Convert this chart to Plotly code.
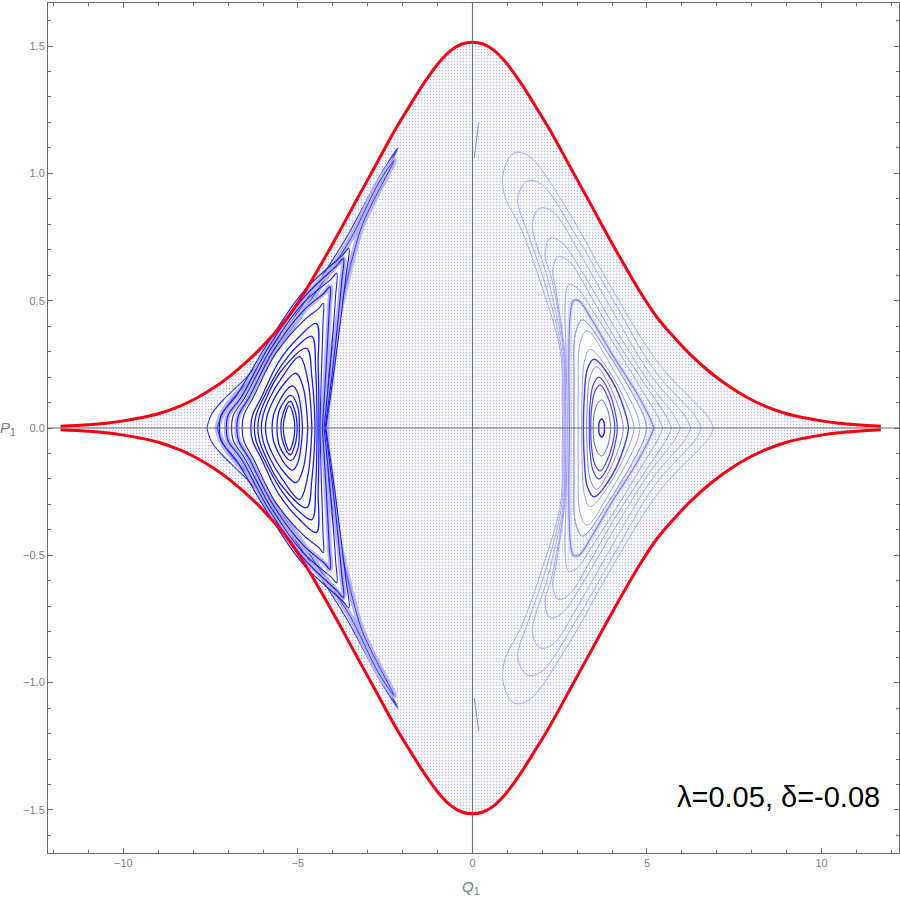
import plotly.graph_objects as go

# Outer energy boundary, upper branch (the lower branch is its mirror in P1)
boundary_q = [-11.8, -11.0, -10.5, -10.0, -9.5, -9.0, -8.38, -7.9, -7.38, -6.95, -6.23, -5.75, -5.28, -4.8, -4.32, -3.85, -3.37, -2.8, -2.22, -1.8, -1.36, -0.93, -0.6, -0.3,
              0.0, 0.3, 0.6, 0.93, 1.36, 1.8, 2.22, 2.8, 3.37, 3.85, 4.32, 4.8, 5.28, 5.75, 6.23, 6.8, 7.38, 7.9, 8.38, 9.0, 9.5, 10.0, 10.5, 11.0, 11.7]
boundary_p = [0.007, 0.013, 0.019, 0.028, 0.04, 0.056, 0.086, 0.118, 0.161, 0.204, 0.29, 0.36, 0.436, 0.535, 0.647, 0.762, 0.883, 1.025, 1.17, 1.265, 1.36, 1.44, 1.485, 1.508,
              1.515, 1.508, 1.485, 1.44, 1.36, 1.265, 1.17, 1.025, 0.883, 0.762, 0.647, 0.535, 0.436, 0.36, 0.29, 0.22, 0.161, 0.118, 0.086, 0.056, 0.04, 0.028, 0.019, 0.013, 0.007]

# Left island curves, upper half
left_q = [
    [-5.42, -5.37, -5.25, -5.13, -5.09],
    [-5.49, -5.42, -5.22, -5.07, -5.02],
    [-5.60, -5.50, -5.20, -5.00, -4.96],
    [-5.74, -5.70, -5.55, -5.32, -5.15, -5.00, -4.90, -4.87],
    [-5.93, -5.88, -5.70, -5.42, -5.05, -4.85, -4.75, -4.72],
    [-6.05, -6.00, -5.80, -5.45, -4.95, -4.72, -4.63, -4.60],
    [-6.15, -6.10, -5.90, -5.50, -4.75, -4.60, -4.53, -4.51],
    [-6.25, -6.20, -5.98, -5.50, -4.95, -4.60, -4.49, -4.46, -4.45],
    [-6.35, -6.30, -6.05, -5.55, -4.95, -4.47, -4.42, -4.40, -4.40],
    [-6.60, -6.55, -6.28, -5.65, -4.85, -4.40, -4.27, -4.28, -4.33, -4.37],
    [-6.75, -6.70, -6.40, -5.72, -4.85, -4.25, -4.08, -4.10, -4.20, -4.30],
    [-6.90, -6.85, -6.52, -5.78, -4.85, -4.05, -3.89, -3.92, -4.08, -4.25],
    [-7.05, -7.00, -6.63, -5.83, -4.85, -3.88, -3.70, -3.75, -3.98, -4.22],
    [-7.25, -7.20, -6.75, -5.88, -4.85, -3.72, -3.54, -3.62, -3.92, -4.20],
]
left_p = [
    [0, 0.05, 0.088, 0.05, 0],
    [0, 0.06, 0.105, 0.06, 0],
    [0, 0.08, 0.128, 0.08, 0],
    [0, 0.05, 0.10, 0.15, 0.165, 0.135, 0.06, 0],
    [0, 0.05, 0.11, 0.17, 0.215, 0.16, 0.07, 0],
    [0, 0.05, 0.12, 0.20, 0.28, 0.19, 0.08, 0],
    [0, 0.05, 0.12, 0.22, 0.313, 0.20, 0.08, 0],
    [0, 0.05, 0.12, 0.24, 0.33, 0.36, 0.22, 0.09, 0],
    [0, 0.05, 0.12, 0.26, 0.36, 0.41, 0.25, 0.09, 0],
    [0, 0.05, 0.12, 0.29, 0.42, 0.47, 0.49, 0.42, 0.20, 0],
    [0, 0.05, 0.12, 0.30, 0.46, 0.53, 0.555, 0.47, 0.22, 0],
    [0, 0.05, 0.12, 0.31, 0.49, 0.585, 0.608, 0.52, 0.24, 0],
    [0, 0.05, 0.12, 0.32, 0.51, 0.64, 0.666, 0.57, 0.26, 0],
    [0, 0.05, 0.13, 0.33, 0.535, 0.68, 0.706, 0.60, 0.27, 0],
]
# Outer chain of the left island
chain_q = [-7.60, -7.57, -7.45, -7.14, -6.47, -5.52, -4.57, -3.60, -2.65, -2.13, -3.13, -3.60, -3.89, -4.08, -4.13]
chain_p = [0, 0.02, 0.06, 0.11, 0.20, 0.357, 0.542, 0.75, 0.99, 1.10, 0.83, 0.58, 0.385, 0.177, 0]
chain2_q = [-7.30, -7.27, -7.15, -6.90, -6.30, -5.40, -4.50, -3.50, -2.70, -2.25, -3.15, -3.65, -3.95, -4.15, -4.18]
chain2_p = [0, 0.02, 0.06, 0.11, 0.20, 0.35, 0.53, 0.74, 0.96, 1.05, 0.80, 0.55, 0.36, 0.17, 0]

# Right island curves, upper half
right_q = [
    [3.62, 3.63, 3.70, 3.77, 3.78],
    [3.46, 3.48, 3.58, 3.70, 3.85, 3.94, 3.96],
    [3.39, 3.41, 3.50, 3.66, 3.88, 4.05, 4.08],
    [3.35, 3.36, 3.45, 3.62, 3.92, 4.12, 4.15],
    [3.27, 3.29, 3.37, 3.55, 3.95, 4.28, 4.32],
    [3.18, 3.20, 3.29, 3.48, 3.98, 4.42, 4.47],
    [3.13, 3.14, 3.22, 3.37, 3.98, 4.57, 4.63],
    [3.03, 3.03, 3.08, 3.28, 3.95, 4.72, 4.80],
    [2.91, 2.91, 2.95, 3.15, 3.90, 4.90, 4.99],
    [2.78, 2.77, 2.76, 2.80, 2.89, 3.05, 3.40, 4.00, 4.65, 5.08, 5.20],
    [2.72, 2.71, 2.68, 2.66, 2.75, 3.00, 3.40, 4.10, 4.85, 5.33, 5.45],
    [2.68, 2.67, 2.64, 2.38, 2.30, 2.46, 2.80, 3.30, 4.05, 4.95, 5.58, 5.70],
    [2.65, 2.64, 2.62, 2.28, 2.08, 2.22, 2.55, 3.20, 4.05, 5.05, 5.82, 5.95],
    [2.63, 2.62, 2.60, 2.17, 1.72, 1.93, 2.30, 3.10, 4.05, 5.15, 6.12, 6.25],
    [2.60, 2.59, 2.56, 2.05, 1.60, 1.30, 1.55, 1.95, 2.95, 4.00, 5.25, 6.42, 6.55],
    [2.58, 2.57, 2.52, 1.93, 1.40, 0.93, 0.88, 1.17, 1.60, 2.75, 3.90, 5.35, 6.77, 6.90],
]
right_p = [
    [0, 0.022, 0.0355, 0.022, 0],
    [0, 0.05, 0.095, 0.11, 0.08, 0.03, 0],
    [0, 0.07, 0.14, 0.169, 0.12, 0.04, 0],
    [0, 0.08, 0.165, 0.20, 0.14, 0.04, 0],
    [0, 0.10, 0.20, 0.241, 0.16, 0.04, 0],
    [0, 0.11, 0.23, 0.27, 0.19, 0.04, 0],
    [0, 0.13, 0.27, 0.309, 0.21, 0.04, 0],
    [0, 0.16, 0.33, 0.382, 0.25, 0.05, 0],
    [0, 0.18, 0.37, 0.424, 0.29, 0.05, 0],
    [0, 0.10, 0.26, 0.44, 0.50, 0.50, 0.43, 0.29, 0.15, 0.04, 0],
    [0, 0.10, 0.30, 0.50, 0.562, 0.55, 0.47, 0.32, 0.15, 0.04, 0],
    [0, 0.10, 0.30, 0.55, 0.62, 0.673, 0.65, 0.54, 0.36, 0.17, 0.04, 0],
    [0, 0.10, 0.30, 0.58, 0.68, 0.745, 0.73, 0.60, 0.40, 0.18, 0.04, 0],
    [0, 0.10, 0.30, 0.58, 0.80, 0.863, 0.85, 0.68, 0.45, 0.20, 0.04, 0],
    [0, 0.10, 0.30, 0.58, 0.76, 0.90, 0.968, 0.96, 0.76, 0.51, 0.22, 0.04, 0],
    [0, 0.10, 0.30, 0.58, 0.78, 0.91, 1.00, 1.079, 1.07, 0.85, 0.57, 0.25, 0.04, 0],
]
right_color = ["#2222ff", "#5a5aff", "#4444ff", "#4444ff", "#7a7aff", "#3a3aff", "#9a9aff", "#9a9aff", "#9a9aff",
               "#8080ff", "#a0a0ff", "#a0a0ff", "#a8a8ff", "#a8a8ff", "#a8a8ff", "#a8a8ff"]
right_width = [1.4, 1, 1.2, 1.2, 1, 1.4, 1, 1, 1, 1.2, 1, 1, 1, 1, 1, 1]

# Short dark streaks near Q1 = 0
streak_q = [0.05, 0.12, 0.18]
streak_top_p = [1.06, 1.13, 1.20]
streak_bot_p = [-1.06, -1.12, -1.19]

x_ticks = [-10, -5, 0, 5, 10]
x_labels = ["−10", "−5", "0", "5", "10"]
y_ticks = [-1.5, -1.0, -0.5, 0.0, 0.5, 1.0, 1.5]
y_labels = ["−1.5", "−1.0", "−0.5", "0.0", "0.5", "1.0", "1.5"]
x_range = [-12.16, 12.22]
y_range = [-1.669, 1.669]
caption = "λ=0.05, δ=-0.08"

GRAY = "#6a6a6a"
TICK = "#808080"


def loop(q, p):
    return list(q) + list(reversed(q)), list(p) + [-v for v in reversed(p)]


fig = go.Figure()


def curve(q, p, color, width, fill=False, smooth=1.0):
    lq, lp = loop(q, p)
    fig.add_trace(go.Scatter(
        x=lq, y=lp, mode="lines",
        line=dict(color=color, width=width, shape="spline", smoothing=smooth),
        fill="toself" if fill else None,
        fillcolor="white" if fill else None,
        hoverinfo="skip", showlegend=False))


# Chaotic sea: stippled area inside the boundary
bq, bp = loop(boundary_q, boundary_p)
fig.add_trace(go.Scatter(
    x=bq, y=bp, mode="lines", line=dict(width=0, color="rgba(0,0,0,0)"),
    fill="toself", fillcolor="white",
    fillpattern=dict(shape=".", size=3, solidity=0.2, fgcolor="#7070ff", bgcolor="#fcfcff"),
    hoverinfo="skip", showlegend=False))

# Right island
curve(right_q[8], right_p[8], "#9a9aff", 1, fill=True)
curve(right_q[9], right_p[9], "#d8d8ff", 4)
for i in range(len(right_q) - 1, -1, -1):
    curve(right_q[i], right_p[i], right_color[i], right_width[i])

# Left island
curve(chain_q, chain_p, "#3b3bff", 1.2, fill=True, smooth=0.8)
curve(chain2_q, chain2_p, "#b4b4ff", 6, smooth=0.8)
curve(chain2_q, chain2_p, "#3b3bff", 1, smooth=0.8)
curve(left_q[10], left_p[10], "#b4b4ff", 5)
curve(left_q[12], left_p[12], "#b4b4ff", 5)
for i in range(len(left_q) - 1, -1, -1):
    curve(left_q[i], left_p[i], "#1a1aff", 1.3 if i < 9 else 1.1)

for sp in (streak_top_p, streak_bot_p):
    fig.add_trace(go.Scatter(x=streak_q, y=sp, mode="lines", line=dict(color="#8080ff", width=1),
                             hoverinfo="skip", showlegend=False))

# Boundary: two open branches
for sign in (1, -1):
    fig.add_trace(go.Scatter(x=boundary_q, y=[sign * v for v in boundary_p], mode="lines",
                             line=dict(color="#f5000f", width=3, shape="spline", smoothing=1.0),
                             hoverinfo="skip", showlegend=False))

# Axes through the origin, above the data
fig.add_trace(go.Scatter(x=x_range, y=[0, 0], mode="lines", line=dict(color=GRAY, width=1),
                         hoverinfo="skip", showlegend=False))
fig.add_trace(go.Scatter(x=[0, 0], y=y_range, mode="lines", line=dict(color=GRAY, width=1),
                         hoverinfo="skip", showlegend=False))

axis = dict(showgrid=False, zeroline=False, showline=True, linecolor=GRAY, linewidth=1, mirror="ticks",
            ticks="inside", ticklen=5, tickcolor=GRAY, tickwidth=1, automargin=False,
            tickfont=dict(family="Liberation Sans", size=11, color=TICK))
fig.update_layout(
    width=900, height=900,
    margin=dict(l=48, r=1, t=3, b=47),
    paper_bgcolor="white", plot_bgcolor="white",
    showlegend=False,
    xaxis=dict(axis, range=x_range, tickmode="array", tickvals=x_ticks, ticktext=x_labels,
               minor=dict(dtick=1, ticks="inside", ticklen=3, tickcolor=GRAY, tickwidth=1, showgrid=False)),
    yaxis=dict(axis, range=y_range, tickmode="array", tickvals=y_ticks, ticktext=y_labels,
               minor=dict(dtick=0.1, ticks="inside", ticklen=3, tickcolor=GRAY, tickwidth=1, showgrid=False)),
    annotations=[
        dict(text=caption, xref="x", yref="y", x=11.72, y=-1.449, xanchor="right", yanchor="middle",
             showarrow=False, font=dict(family="Liberation Sans", size=29, color="black")),
        dict(text="<i>Q</i><sub>1</sub>", xref="paper", yref="paper", x=0.4975, y=-0.04, xanchor="center",
             yanchor="middle", showarrow=False, font=dict(family="Liberation Sans", size=15, color=TICK)),
        dict(text="<i>P</i><sub>1</sub>", xref="paper", yref="paper", x=-0.047, y=0.5, xanchor="center",
             yanchor="middle", showarrow=False, font=dict(family="Liberation Sans", size=15, color=TICK)),
    ],
)
fig.write_html("out.html", config={"displayModeBar": False}, post_script="document.body.style.margin='0';")
